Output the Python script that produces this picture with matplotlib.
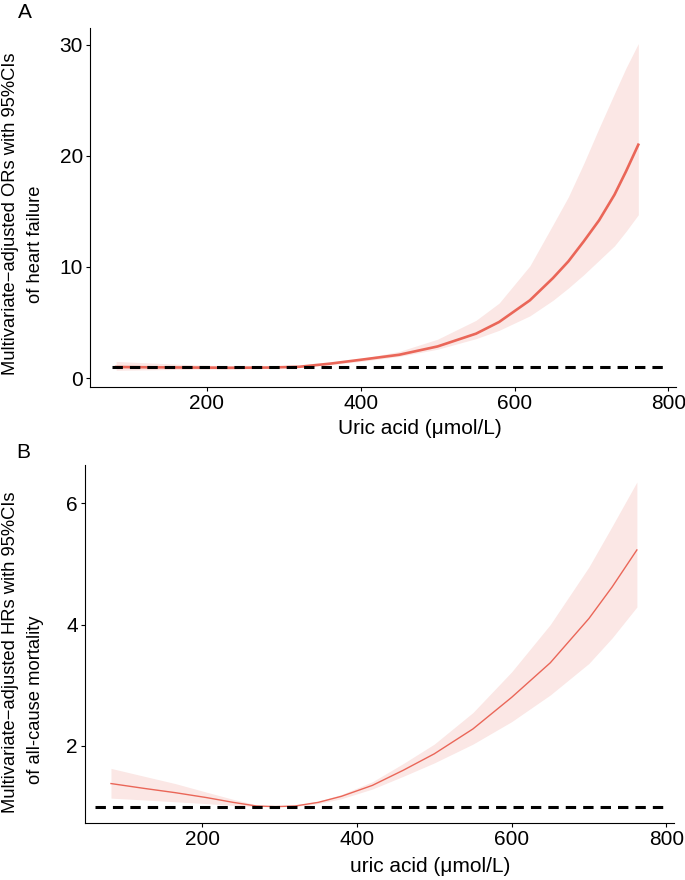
import matplotlib
matplotlib.use("Agg")
import matplotlib.pyplot as plt

plt.rcParams['font.family'] = ['Liberation Sans', 'DejaVu Sans']

# panel A: ORs of heart failure
ua_a = [82, 130, 180, 230, 280, 320, 360, 400, 450, 500, 550, 580, 620, 650, 670, 690, 710, 730, 745, 761]
or_fit = [1.0, 0.97, 0.95, 0.93, 0.95, 1.02, 1.3, 1.65, 2.1, 2.85, 4.0, 5.05, 7.0, 9.0, 10.5,
          12.3, 14.2, 16.5, 18.6, 21.0]
or_hi = [1.5, 1.35, 1.2, 1.1, 1.05, 1.08, 1.35, 1.75, 2.4, 3.5, 5.2, 6.75, 10.1, 13.8, 16.3,
         19.3, 22.5, 25.6, 27.9, 30.1]
or_lo = [0.7, 0.75, 0.8, 0.82, 0.87, 0.96, 1.2, 1.5, 1.95, 2.6, 3.55, 4.3, 5.6, 7.0, 8.1,
         9.3, 10.6, 11.9, 13.2, 14.7]

# panel B: HRs of all-cause mortality
ua_b = [82, 125, 165, 205, 240, 270, 295, 320, 350, 380, 420, 460, 500, 550, 600, 650, 700, 730, 762]
hr_fit = [1.38, 1.30, 1.23, 1.15, 1.07, 1.01, 1.00, 1.01, 1.07, 1.17, 1.35, 1.60, 1.87, 2.28,
          2.80, 3.37, 4.10, 4.62, 5.23]
hr_hi = [1.63, 1.50, 1.38, 1.24, 1.12, 1.03, 1.00, 1.02, 1.09, 1.20, 1.41, 1.71, 2.03, 2.55,
         3.22, 4.00, 4.95, 5.62, 6.35]
hr_lo = [1.14, 1.11, 1.08, 1.05, 1.02, 1.00, 1.00, 1.00, 1.05, 1.13, 1.29, 1.50, 1.72, 2.03,
         2.40, 2.84, 3.36, 3.78, 4.29]

x_ticks = [200, 400, 600, 800]

W, H = 685, 880
fig = plt.figure(figsize=(W / 100, H / 100), dpi=100)

line_col = '#EA6658'
band_col = '#FBE7E5'


def px_axes(l, r, t, b):
    return fig.add_axes([l / W, 1 - b / H, (r - l) / W, (b - t) / H])


def style(ax):
    for s in ['top', 'right']:
        ax.spines[s].set_visible(False)
    for s in ['left', 'bottom']:
        ax.spines[s].set_linewidth(0.8)
    ax.tick_params(labelsize=15, length=3, width=0.8, pad=2, colors='black')
    ax.set_xticks(x_ticks)


ax1 = px_axes(90, 676, 28, 387)
ax1.fill_between(ua_a, or_lo, or_hi, color=band_col, lw=0, zorder=1)
ax1.plot(ua_a, or_fit, color=line_col, lw=1.9, zorder=2)
ax1.plot([77, 795], [1, 1], color='black', lw=2.2, dashes=(3.4, 2.3), zorder=3)
ax1.set_xlim(48, 810)
ax1.set_ylim(-0.8, 31.5)
ax1.set_yticks([0, 10, 20, 30])
style(ax1)
ax1.set_xlabel('Uric acid (\u03bcmol/L)', fontsize=15)
ax1.xaxis.set_label_coords((420 - 90) / 586, -0.09)

ax2 = px_axes(84.7, 674, 465, 823)
ax2.fill_between(ua_b, hr_lo, hr_hi, color=band_col, lw=0, zorder=1)
ax2.plot(ua_b, hr_fit, color=line_col, lw=1.0, zorder=2)
ax2.plot([61, 800], [1, 1], color='black', lw=2.2, dashes=(3.4, 2.3), zorder=3)
ax2.set_xlim(48, 810)
ax2.set_ylim(0.73, 6.63)
ax2.set_yticks([2, 4, 6])
style(ax2)
ax2.set_xlabel('uric acid (\u03bcmol/L)', fontsize=15)
ax2.xaxis.set_label_coords((430 - 84.7) / 589.3, -0.095)

# y labels, two lines each
fig.text(11 / W, 1 - 214 / H, 'Multivariate\u2212adjusted ORs with 95%CIs',
         rotation=90, ha='center', va='center', fontsize=13.2)
fig.text(36 / W, 1 - 244 / H, 'of heart failure',
         rotation=90, ha='center', va='center', fontsize=13.2)
fig.text(11 / W, 1 - 652 / H, 'Multivariate\u2212adjusted HRs with 95%CIs',
         rotation=90, ha='center', va='center', fontsize=13.2)
fig.text(36 / W, 1 - 700 / H, 'of all-cause mortality',
         rotation=90, ha='center', va='center', fontsize=13.2)

fig.text(18 / W, 1 - 18 / H, 'A', fontsize=15, ha='left', va='baseline')
fig.text(16 / W, 1 - 458 / H, 'B', fontsize=15, ha='left', va='baseline')

fig.savefig('out.png', dpi=100, facecolor='white')
